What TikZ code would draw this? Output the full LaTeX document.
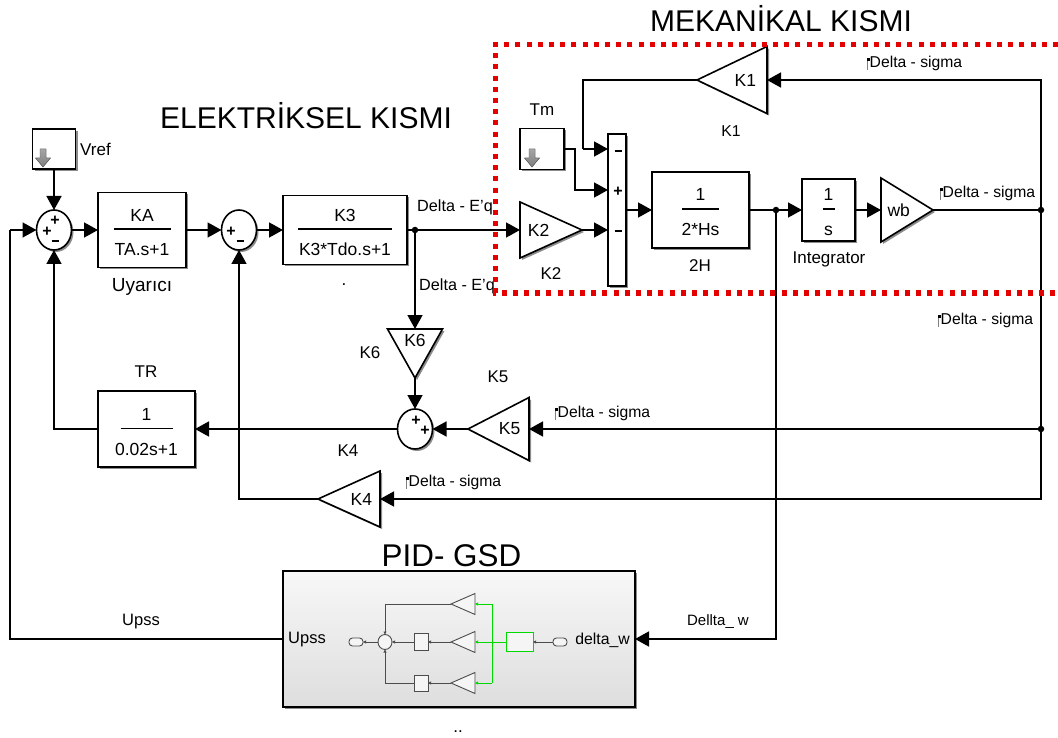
\documentclass[tikz,border=0pt]{standalone}
\usepackage{fontspec}
\setmainfont{Liberation Sans}
\usetikzlibrary{arrows.meta,shapes.geometric,shadows,calc}
\newcommand\frc[3]{\vbox{\offinterlineskip\halign{\hfil##\hfil\cr
\vrule height 22pt depth 7.5pt width 0pt #1\cr
\vrule width #3 height 1.8pt depth 0pt\cr
\vrule height 25.7pt depth 5pt width 0pt #2\cr}}}
\newcommand\dmark{\leavevmode\rlap{\color{gray}\rule[-2pt]{0.8pt}{12pt}}\rlap{\rule[7pt]{2.6pt}{2.6pt}}\hspace{2.5pt}}
\newcommand\fs[1]{\fontsize{#1}{#1}\selectfont}
\newcommand\dnarrow[2]{\fill[top color=gray!70,bottom color=gray,draw=gray!70!black,line width=.4pt]
 (#1-3,#2-9)--(#1+3,#2-9)--(#1+3,#2)--(#1+7.5,#2)--(#1,#2+9)--(#1-7.5,#2)--(#1-3,#2)--cycle;}
\tikzset{
 shad/.style={drop shadow={shadow xshift=2pt,shadow yshift=-2pt,opacity=.45,fill=black}},
 txt/.style={font=\fs{17},inner sep=0pt},
 dtxt/.style={font=\fs{15.7},inner sep=0pt},
 title/.style={font=\fs{#1},inner sep=0pt},
 blk/.style={draw,line width=1.6pt,fill=white,shad,inner sep=0pt,font=\fs{17.5},outer sep=0pt},
 box/.style={blk,rectangle,minimum width=#1},
 box/.default=50pt,
 sumb/.style={blk,ellipse,minimum width=35pt,minimum height=40pt},
 tri/.style={blk,isosceles triangle,isosceles triangle stretches,minimum width=#1},
 dot/.style={circle,fill=black,inner sep=0pt,minimum size=6.5pt},
 wire/.style={line width=1.6pt},
 arr/.style={wire,-{Triangle[length=14pt,width=15pt]}},
 sgn/.style={font=\bfseries\fs{16},inner sep=0pt},
 mini/.style={draw=black!70,line width=.9pt,fill=white!96!black,inner sep=0pt,outer sep=0pt},
 mw/.style={draw=black!70,line width=.9pt,-{Triangle[length=3pt,width=3pt]}},
 gw/.style={draw=green!85!black,line width=.9pt},
 gwa/.style={gw,-{Triangle[length=3pt,width=3pt]}},
}
\begin{document}
\begin{tikzpicture}[x=1pt,y=-1pt]
\useasboundingbox (0,0) rectangle (1058,738);
\fill[white] (0,0) rectangle (1058,738);
% blocks
\node[blk,minimum width=43pt,minimum height=40pt] (vref) at (54,149) {};
\node[sumb] (s1) at (54,230) {};
\node[blk,minimum width=88pt,minimum height=75pt] (ka) at (142,230) {\frc{KA}{TA.s+1}{57pt}};
\node[sumb] (s2) at (239,230) {};
\node[blk,minimum width=124pt,minimum height=69pt] (k3) at (345,230) {\frc{K3}{K3*Tdo.s+1}{94pt}};
\node[tri=56pt,shape border rotate=0,minimum height=62pt,anchor=apex] (k2) at (582,230) {K2};
\node[blk,minimum width=18pt,minimum height=152pt] (bar) at (617,210) {};
\node[blk,minimum width=97pt,minimum height=76pt] (h2) at (700.5,210) {\frc{1}{2*Hs}{37pt}};
\node[blk,minimum width=53pt,minimum height=59pt] (int) at (828.5,210) {\frc{1}{s}{12pt}};
\node[tri=64pt,shape border rotate=0,minimum height=52pt,anchor=apex] (wb) at (933,210) {wb};
\node[tri=67pt,shape border rotate=180,minimum height=70pt,anchor=apex] (k1) at (697,80) {K1};
\node[blk,minimum width=44pt,minimum height=41pt] (tm) at (542,149) {};
\node[tri=55pt,shape border rotate=270,minimum height=49pt,anchor=apex] (k6) at (415,378) {K6};
\node[sumb,minimum width=35pt,minimum height=40pt] (s3) at (415,429) {};
\node[tri=63pt,shape border rotate=180,minimum height=61pt,anchor=apex] (k5) at (468,429) {K5};
\node[tri=56pt,shape border rotate=180,minimum height=62pt,anchor=apex] (k4) at (318,499) {K4};
\node[blk,minimum width=97pt,minimum height=76pt] (tr) at (146.5,429) {\frc{1}{0.02s+1}{52pt}};
\node[blk,minimum width=352pt,minimum height=136pt,top color=white!97!black,bottom color=black!13,draw=black] (pid) at (459,639) {};
% junctions and bends
\node[dot] (j1) at (415,230) {};
\node[dot] (j2) at (776,210) {};
\node[dot] (j3) at (1041,210) {};
\node[dot] (j4) at (1041,429) {};
\coordinate (c1) at (583,149);
\coordinate (c2) at (575,190);
\coordinate (c3) at (10,230);
% connectors
\draw[arr] (vref.south) -- (s1.north);
\draw[arr] (s1.east) -- (ka.west);
\draw[arr] (ka.east) -- (s2.west);
\draw[arr] (s2.east) -- (k3.west);
\draw[wire] (k3.east) -- (j1);
\draw[arr] (j1) -- (k2.lower side);
\draw[arr] (j1) -- (k6.lower side);
\draw[arr] (k6.apex) -- (s3.north);
\draw[arr] (k5.apex) -- (s3.east);
\draw[arr] (s3.west) -- (tr.east);
\draw[arr] (tr.west) -| (s1.south);
\draw[arr] (k4.apex) -| (s2.south);
\draw[arr] (k2.apex) -- (bar.west |- k2.apex);
\draw[arr] (tm.east) -| (c2) -- (bar.west |- c2);
\draw[wire] (k1.apex) -| (c1);
\draw[arr] (c1) -- (bar.west |- c1);
\draw[arr] (bar.east) -- (h2.west);
\draw[wire] (h2.east) -- (j2);
\draw[arr] (j2) -- (int.west);
\draw[arr] (int.east) -- (wb.lower side);
\draw[wire] (wb.apex) -- (j3);
\draw[arr] (j3) |- (k1.lower side);
\draw[wire] (j3) -- (j4);
\draw[arr] (j4) -- (k5.lower side);
\draw[arr] (j4) |- (k4.lower side);
\draw[arr] (j2) |- (pid.east);
\draw[wire] (pid.west) -| (c3);
\draw[arr] (c3) -- (s1.west);
% source icons
\dnarrow{43}{158}
\dnarrow{532}{158}
% signs
\node[sgn] (s1a) at (55,221) {+};
\node[sgn] (s1b) at (47,232) {+};
\node[sgn] (s1c) at (55,241) {\rule{7pt}{1.8pt}};
\node[sgn] (s2a) at (231,232) {+};
\node[sgn] (s2b) at (240,241) {\rule{7pt}{1.8pt}};
\node[sgn] (s3a) at (416,421) {+};
\node[sgn] (s3b) at (425,431) {+};
\node[sgn] (b1) at (618,151) {\rule{7pt}{1.8pt}};
\node[sgn] (b2) at (618,192) {+};
\node[sgn] (b3) at (618,231) {\rule{7pt}{1.8pt}};
% PID inner diagram
\node[mini,isosceles triangle,isosceles triangle stretches,shape border rotate=180,minimum width=21pt,minimum height=24pt,anchor=apex] (pa) at (451,604) {};
\node[mini,isosceles triangle,isosceles triangle stretches,shape border rotate=180,minimum width=21pt,minimum height=24pt,anchor=apex] (pb) at (451,642) {};
\node[mini,isosceles triangle,isosceles triangle stretches,shape border rotate=180,minimum width=21pt,minimum height=24pt,anchor=apex] (pc) at (451,683) {};
\node[mini,minimum width=14pt,minimum height=17pt] (qb) at (421,642) {};
\node[mini,minimum width=14pt,minimum height=16pt] (qc) at (421,683) {};
\node[mini,ellipse,minimum width=14pt,minimum height=15pt] (ps) at (385,642) {};
\node[mini,draw=green!85!black,minimum width=27pt,minimum height=19pt] (gb) at (519.5,642) {};
\node[mini,rounded corners=3.5pt,minimum width=14pt,minimum height=8pt] (pi) at (560,642) {};
\node[mini,rounded corners=3.5pt,minimum width=14pt,minimum height=8pt] (po) at (356,642) {};
\coordinate (g1) at (492,642);
\coordinate (g2) at (492,604);
\coordinate (g3) at (492,683);
\coordinate (m1) at (385,604);
\coordinate (m2) at (385,683);
\draw[mw] (pi.west) -- (gb.east);
\draw[gw] (gb.west) -- (g1);
\draw[gw] (g2) -- (g3);
\draw[gwa] (g1) -- (pb.lower side);
\draw[gwa] (g2) -- (pa.lower side);
\draw[gwa] (g3) -- (pc.lower side);
\draw[mw] (pb.apex) -- (qb.east);
\draw[mw] (pc.apex) -- (qc.east);
\draw[mw] (qb.west) -- (ps.east);
\draw[mw] (ps.west) -- (po.east);
\draw[mw] (pa.apex) -- (m1) -- (ps.north);
\draw[mw] (qc.west) -- (m2) -- (ps.south);
% labels
\node[title=30] (tmek) at (781,19) {MEKANİKAL KISMI};
\node[title=30] (tele) at (306,116) {ELEKTRİKSEL KISMI};
\node[title=31.4] (tpid) at (451.5,556) {PID- GSD};
\node[txt,anchor=west] (lvref) at (80,149) {Vref};
\node[txt,font=\fs{19}] (luy) at (142,287) {Uyarıcı};
\node[txt] (ltr) at (146,372) {TR};
\node[txt] (ldot) at (344,285) {.};
\node[txt] (ldots) at (458,732) {..};
\node[txt] (lk6) at (370,353) {K6};
\node[txt] (lk5) at (498,377) {K5};
\node[txt] (lk4) at (348,451) {K4};
\node[txt] (ltm) at (542,110) {Tm};
\node[dtxt] (lk1) at (731,131) {K1};
\node[txt] (lk2) at (551,274) {K2};
\node[txt] (l2h) at (700,266) {2H};
\node[txt] (lint) at (829,259) {Integrator};
\node[txt,font=\fs{16.2},anchor=west] (la) at (417,207) {Delta - E'q};
\node[txt,font=\fs{16.2},anchor=west] (lb) at (419,286) {Delta - E'q};
\node[dtxt,anchor=west] (lc) at (867,63.5) {\dmark Delta - sigma};
\node[dtxt,anchor=west] (ld) at (940,193.5) {\dmark Delta - sigma};
\node[dtxt,anchor=west] (le) at (938,320.5) {\dmark Delta - sigma};
\node[dtxt,anchor=west] (lf) at (555,413.5) {\dmark Delta - sigma};
\node[dtxt,anchor=west] (lg) at (406,482.5) {\dmark Delta - sigma};
\node[txt,font=\fs{16.5}] (lu) at (141,622) {Upss};
\node[dtxt,font=\fs{15}] (lw) at (718,622) {Dellta\_ w};
\node[txt,font=\fs{16.5},anchor=west] (lpu) at (288,640) {Upss};
\node[txt,font=\fs{15.8},anchor=east] (lpw) at (630,640) {delta\_w};
% red dashed frame
\coordinate (ra) at (1058,45);
\coordinate (rb) at (495,45);
\coordinate (rc) at (495,293);
\coordinate (rd) at (1058,293);
\draw[red!90!black,line width=5pt,dash pattern=on 5pt off 6.2pt] (ra) -- (rb) -- (rc) -- (rd);
\end{tikzpicture}
\end{document}
